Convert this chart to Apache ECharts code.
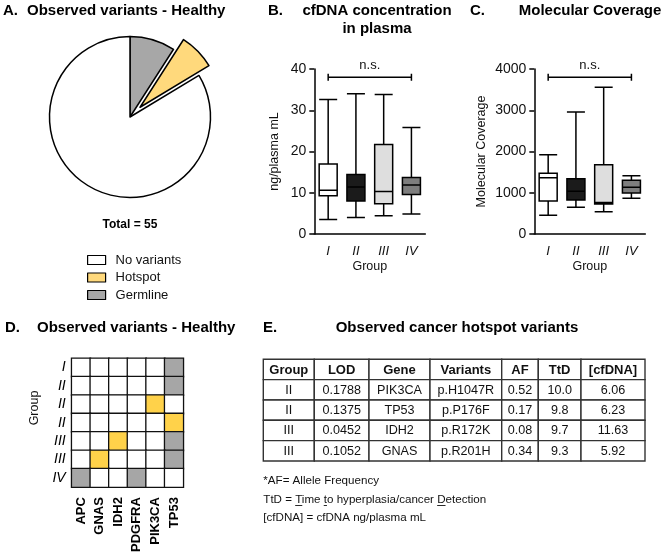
<!DOCTYPE html>
<html><head><meta charset="utf-8">
<script src="https://cdn.jsdelivr.net/npm/echarts@6/dist/echarts.min.js"></script>
<style>html,body{margin:0;padding:0;background:#fff}#c{width:664px;height:555px}</style>
</head><body><div id="c"></div>
<script>
// ================= DATA =================
// Panel A: pie
const pieCategories = ['Germline', 'Hotspot', 'No variants'];
const pieCounts = [5, 4, 46];
const pieLegendOrder = ['No variants', 'Hotspot', 'Germline'];
const pieTotalText = 'Total = 55';

// Panels B & C: boxplots  [min, Q1, median, Q3, max]
const boxGroups = ['I', 'II', 'III', 'IV'];
const cfdnaBoxes = [
  [3.5, 9.3, 10.6, 17.0, 32.6],
  [4.0, 8.0, 11.4, 14.4, 34.0],
  [4.4, 7.35, 10.3, 21.7, 33.8],
  [4.85, 9.6, 11.9, 13.7, 25.8]
];
const coverageBoxes = [
  [453, 800, 1366, 1471, 1923],
  [646, 824, 1034, 1341, 2958],
  [541, 727, 765, 1681, 3556],
  [865, 994, 1131, 1301, 1414]
];
const cfdnaAxis = [0, 40, 10];       // min, max, interval
const coverageAxis = [0, 4000, 1000];
const cfdnaBracket = 38;
const coverageBracket = 3800;
const sigLabel = 'n.s.';

// Panel D: heatmap  (0 none, 1 hotspot, 2 germline)
const heatRows = ['I', 'II', 'II', 'II', 'III', 'III', 'IV'];
const heatGenes = ['APC', 'GNAS', 'IDH2', 'PDGFRA', 'PIK3CA', 'TP53'];
const heatMatrix = [
  [0, 0, 0, 0, 0, 2],
  [0, 0, 0, 0, 0, 2],
  [0, 0, 0, 0, 1, 0],
  [0, 0, 0, 0, 0, 1],
  [0, 0, 1, 0, 0, 2],
  [0, 1, 0, 0, 0, 2],
  [2, 0, 0, 2, 0, 0]
];

// Panel E: table
const tableHeader = ['Group', 'LOD', 'Gene', 'Variants', 'AF', 'TtD', '[cfDNA]'];
const tableGroup = ['II', 'II', 'III', 'III'];
const tableLOD = ['0.1788', '0.1375', '0.0452', '0.1052'];
const tableGene = ['PIK3CA', 'TP53', 'IDH2', 'GNAS'];
const tableVariant = ['p.H1047R', 'p.P176F', 'p.R172K', 'p.R201H'];
const tableAF = ['0.52', '0.17', '0.08', '0.34'];
const tableTtD = ['10.0', '9.8', '9.7', '9.3'];
const tableCf = ['6.06', '6.23', '11.63', '5.92'];
const footnotes = [
  '*AF= Allele Frequency',
  'TtD = Time to hyperplasia/cancer Detection',
  '[cfDNA] = cfDNA ng/plasma mL'
];

// ================= STYLE / LAYOUT =================
const FONT = '"Liberation Sans", Arial, Helvetica, sans-serif';
const INK = '#111';
const pieColors = { 'Germline': '#a7a7a7', 'Hotspot': '#ffd97c', 'No variants': '#ffffff' };
const boxFills = ['#ffffff', '#1b1b1b', '#dedede', '#7e7e7e'];
const heatColors = ['#ffffff', '#ffd24a', '#a6a6a6'];
const tableColEdges = [0, 51, 105.7, 166.7, 238.4, 275, 317.7, 381.7];

// ================= BUILD =================
const chart = echarts.init(document.getElementById('c'), null, { renderer: 'canvas' });

const heatData = [];
heatMatrix.forEach((row, r) => row.forEach((v, c) => {
  heatData.push({ value: [c, r, v], itemStyle: { color: heatColors[v] } });
}));

const tableCols = [tableGroup, tableLOD, tableGene, tableVariant, tableAF, tableTtD, tableCf];
const tableCells = [];
tableHeader.forEach((h, c) => tableCells.push({ col: c, row: 0, text: h, head: true }));
for (let r = 0; r < tableGroup.length; r++) {
  tableCols.forEach((col, c) => tableCells.push({ col: c, row: r + 1, text: col[r], head: false }));
}

function boxAxisPair(gi, axisRange, yName, yGap) {
  const x = {
    type: 'category', gridIndex: gi, data: boxGroups, boundaryGap: true,
    axisLine: { lineStyle: { color: '#000', width: 1.5 } },
    axisTick: { alignWithLabel: true, length: 5, lineStyle: { color: '#000', width: 1.5 } },
    axisLabel: { fontStyle: 'italic', fontSize: 13, color: INK, margin: 11, fontFamily: FONT },
    name: 'Group', nameLocation: 'middle', nameGap: 26,
    nameTextStyle: { fontSize: 12.5, color: INK, fontFamily: FONT }
  };
  const y = {
    type: 'value', gridIndex: gi, min: axisRange[0], max: axisRange[1], interval: axisRange[2],
    axisLine: { show: true, lineStyle: { color: '#000', width: 1.5 } },
    axisTick: { show: true, length: 5, lineStyle: { color: '#000', width: 1.5 } },
    splitLine: { show: false },
    axisLabel: { fontSize: 14, color: INK, margin: 8, fontFamily: FONT, formatter: v => String(v) },
    name: yName, nameLocation: 'middle', nameGap: yGap, nameRotate: 90,
    nameTextStyle: { fontSize: 12.5, color: INK, fontFamily: FONT }
  };
  return [x, y];
}
const [xB, yB] = boxAxisPair(0, cfdnaAxis, 'ng/plasma mL', 33);
const [xC, yC] = boxAxisPair(1, coverageAxis, 'Molecular Coverage', 46);

function boxSeries(idx, boxes) {
  return {
    type: 'boxplot', xAxisIndex: idx, yAxisIndex: idx, boxWidth: [18, 18],
    emphasis: { disabled: true }, silent: true,
    itemStyle: { borderColor: '#000', borderWidth: 1.5 },
    data: boxes.map((v, i) => ({ value: v, itemStyle: { color: boxFills[i], borderColor: '#000', borderWidth: 1.5 } }))
  };
}
function bracketSeries(idx, yVal) {
  return {
    type: 'custom', xAxisIndex: idx, yAxisIndex: idx, clip: false, silent: true,
    data: [[0, yVal, boxGroups.length - 1]],
    renderItem: function (params, api) {
      const a = api.coord([api.value(0), api.value(1)]);
      const b = api.coord([api.value(2), api.value(1)]);
      const ls = { stroke: '#000', lineWidth: 1.5 };
      return {
        type: 'group', children: [
          { type: 'line', shape: { x1: a[0], y1: a[1], x2: b[0], y2: b[1] }, style: ls },
          { type: 'line', shape: { x1: a[0], y1: a[1] - 3.5, x2: a[0], y2: a[1] + 3.5 }, style: ls },
          { type: 'line', shape: { x1: b[0], y1: b[1] - 3.5, x2: b[0], y2: b[1] + 3.5 }, style: ls },
          { type: 'text', style: { text: sigLabel, x: (a[0] + b[0]) / 2, y: a[1] - 5, align: 'center', verticalAlign: 'bottom', fontSize: 13, fontFamily: FONT, fill: INK } }
        ]
      };
    }
  };
}

// footnote underlines measured from the text itself
const mctx = document.createElement('canvas').getContext('2d');
const FN_SIZE = 11.6;
mctx.font = FN_SIZE + 'px ' + FONT;
const fnX = 263.3;
const fnY = [481, 499.5, 517.5];
const fn2 = footnotes[1];
const underlineIdx = [fn2.indexOf('Time'), fn2.indexOf(' to ') + 1, fn2.indexOf('Detection')];
const underlines = underlineIdx.map(i => {
  const x0 = fnX + mctx.measureText(fn2.slice(0, i)).width;
  const w = mctx.measureText(fn2.charAt(i)).width;
  return { type: 'line', shape: { x1: x0, y1: fnY[1] + 6, x2: x0 + w, y2: fnY[1] + 6 }, style: { stroke: INK, lineWidth: 0.9 } };
});

function txt(x, y, text, opt) {
  return Object.assign({ type: 'text', x: x, y: y, silent: true,
    style: Object.assign({ text: text, fontFamily: FONT, fill: '#000', fontSize: 15, fontWeight: 'bold', align: 'left', verticalAlign: 'middle' }, opt || {}) });
}

const graphics = [
  txt(3, 11, 'A.'), txt(27, 11, 'Observed variants - Healthy'),
  txt(268, 11, 'B.'), txt(377, 11, 'cfDNA concentration', { align: 'center' }), txt(377, 29, 'in plasma', { align: 'center' }),
  txt(470, 11, 'C.'), txt(590, 11, 'Molecular Coverage', { align: 'center' }),
  txt(5, 328, 'D.'), txt(37, 328, 'Observed variants - Healthy'),
  txt(263, 328, 'E.'), txt(457, 328, 'Observed cancer hotspot variants', { align: 'center' }),
  txt(130, 225, pieTotalText, { align: 'center', fontSize: 12 }),
  Object.assign(txt(35, 408, 'Group', { align: 'center', fontSize: 12.5, fontWeight: 'normal', fill: INK }), { rotation: Math.PI / 2 }),
].concat(footnotes.map((t, i) => txt(fnX, fnY[i], t, { fontSize: FN_SIZE, fontWeight: 'normal', fill: INK })))
 .concat(underlines);

const option = {
  animation: false,
  backgroundColor: '#ffffff',
  textStyle: { fontFamily: FONT },
  graphic: graphics,
  legend: {
    data: pieLegendOrder, orient: 'vertical', left: 82, top: 248.5,
    itemWidth: 18, itemHeight: 9, itemGap: 4.5, icon: 'rect', selectedMode: false,
    itemStyle: { borderColor: '#000', borderWidth: 1.2 },
    textStyle: { fontSize: 13, color: INK, fontFamily: FONT, padding: [0, 0, 0, 5] }
  },
  grid: [
    { left: 314.3, top: 69, width: 111, height: 165 },
    { left: 534.3, top: 69, width: 111, height: 165 },
    { left: 71.7, top: 358.3, width: 111.6, height: 130 },
    { left: 263.3, top: 359.3, width: 381.7, height: 101.7 }
  ],
  xAxis: [
    xB, xC,
    { type: 'category', gridIndex: 2, data: heatGenes, axisLine: { show: false }, axisTick: { show: false },
      axisLabel: { rotate: 90, fontWeight: 'bold', fontSize: 13, color: '#000', margin: 10, interval: 0, fontFamily: FONT } },
    { type: 'value', gridIndex: 3, min: 0, max: tableColEdges[tableColEdges.length - 1], show: false }
  ],
  yAxis: [
    yB, yC,
    { type: 'category', gridIndex: 2, data: heatRows, inverse: true, axisLine: { show: false }, axisTick: { show: false },
      axisLabel: { fontStyle: 'italic', fontSize: 14, color: '#000', margin: 6, interval: 0, fontFamily: FONT } },
    { type: 'category', gridIndex: 3, data: [0, 1, 2, 3, 4], inverse: true, show: false }
  ],
  series: [
    {
      type: 'pie', center: [130, 117], radius: 80.5, startAngle: 90, clockwise: true,
      selectedMode: 'single', selectedOffset: 14, silent: true,
      label: { show: false }, labelLine: { show: false }, emphasis: { disabled: true },
      itemStyle: { borderColor: '#000', borderWidth: 1.5 },
      select: { itemStyle: { borderColor: '#000', borderWidth: 1.5 } },
      data: pieCategories.map((n, i) => ({ name: n, value: pieCounts[i], selected: n === 'Hotspot', itemStyle: { color: pieColors[n] } }))
    },
    boxSeries(0, cfdnaBoxes), bracketSeries(0, cfdnaBracket),
    boxSeries(1, coverageBoxes), bracketSeries(1, coverageBracket),
    {
      type: 'heatmap', xAxisIndex: 2, yAxisIndex: 2, data: heatData, silent: true,
      itemStyle: { borderColor: '#111', borderWidth: 1.3 }, emphasis: { disabled: true }
    },
    {
      type: 'custom', xAxisIndex: 3, yAxisIndex: 3, silent: true, clip: false,
      data: tableCells.map(c => [c.col, c.row]),
      renderItem: function (params, api) {
        const cell = tableCells[params.dataIndex];
        const yMid = api.coord([0, cell.row])[1];
        const h = api.size([0, 1])[1];
        const x0 = api.coord([tableColEdges[cell.col], cell.row])[0];
        const x1 = api.coord([tableColEdges[cell.col + 1], cell.row])[0];
        return {
          type: 'group', children: [
            { type: 'rect', shape: { x: x0, y: yMid - h / 2, width: x1 - x0, height: h }, style: { fill: '#fff', stroke: '#333', lineWidth: 1.4 } },
            { type: 'text', style: { text: cell.text, x: (x0 + x1) / 2, y: yMid + 0.5, align: 'center', verticalAlign: 'middle',
              fontSize: cell.head ? 13 : 12.6, fontWeight: cell.head ? 'bold' : 'normal', fontFamily: FONT, fill: '#111' } }
          ]
        };
      }
    }
  ]
};
chart.setOption(option);
</script>
</body></html>
